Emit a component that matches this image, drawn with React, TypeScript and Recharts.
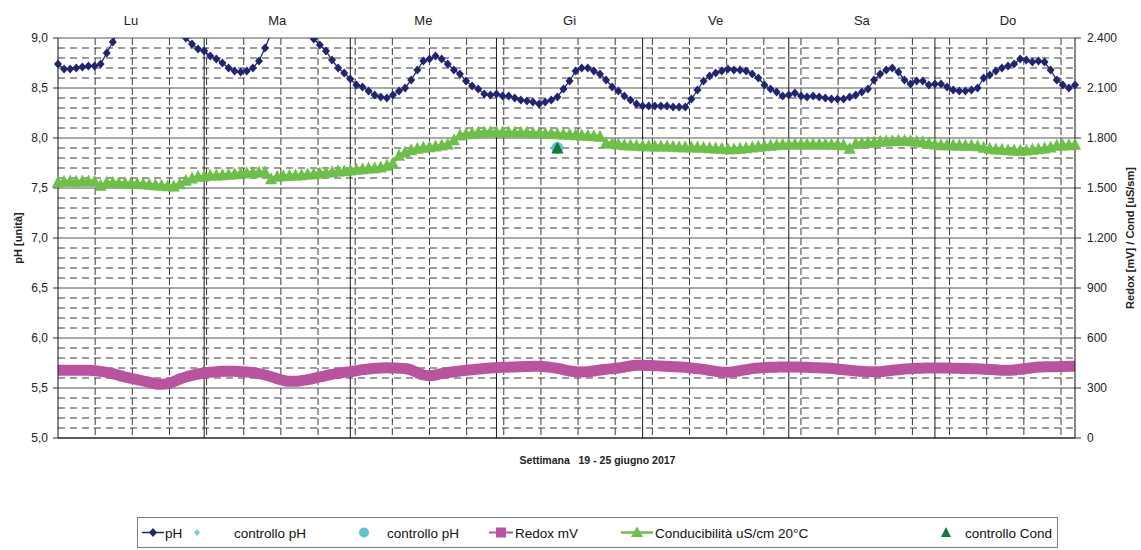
import React from "react"
import { LineChart, Line, XAxis, YAxis, CartesianGrid, Legend } from "recharts"

const FONT = "'Liberation Sans', Arial, sans-serif"

const dayLabels = ["Lu", "Ma", "Me", "Gi", "Ve", "Sa", "Do"]
const dayCenterTicks = [12, 36, 60, 84, 108, 132, 156]
const dayBoundTicks = [24, 48, 72, 96, 120, 144]
const hourTicks = [
    0, 6.1, 12.2, 18.3, 24.4, 30.5, 36.6, 42.7, 48.8, 54.9, 61, 67.1, 73.2, 79.3,
    85.4, 91.5, 97.6, 103.7, 109.8, 115.9, 122, 128.1, 134.2, 140.3, 146.4, 152.5, 158.6, 164.7,
]
const phTicks = [5, 5.5, 6, 6.5, 7, 7.5, 8, 8.5, 9]
const phMinorTicks = [
    5.1, 5.2, 5.3, 5.4, 5.6, 5.7, 5.8, 5.9, 6.1, 6.2, 6.3, 6.4, 6.6, 6.7, 6.8, 6.9,
    7.1, 7.2, 7.3, 7.4, 7.6, 7.7, 7.8, 7.9, 8.1, 8.2, 8.3, 8.4, 8.6, 8.7, 8.8, 8.9,
]
const rightTicks = [0, 300, 600, 900, 1200, 1500, 1800, 2100, 2400]

// hourly readings, 19-25 June
const phValues = [
    8.74, 8.69, 8.69, 8.70, 8.71, 8.72, 8.72, 8.74, 8.85, 8.96, 9.08, 9.18, 9.26, 9.32, 9.36, 9.38,
    9.37, 9.33, 9.26, 9.17, 9.08, 9.0, 8.94, 8.89, 8.87, 8.82, 8.79, 8.75, 8.70, 8.67, 8.66, 8.67,
    8.70, 8.77, 8.90, 9.05, 9.16, 9.24, 9.25, 9.20, 9.10, 9.04, 8.99, 8.93, 8.87, 8.78, 8.70, 8.65,
    8.59, 8.53, 8.51, 8.47, 8.43, 8.41, 8.40, 8.43, 8.47, 8.50, 8.58, 8.68, 8.77, 8.79, 8.82, 8.79,
    8.74, 8.68, 8.64, 8.57, 8.52, 8.49, 8.44, 8.43, 8.44, 8.42, 8.42, 8.40, 8.38, 8.37, 8.36, 8.34,
    8.36, 8.38, 8.41, 8.49, 8.57, 8.67, 8.70, 8.70, 8.67, 8.64, 8.58, 8.51, 8.47, 8.42, 8.38, 8.34,
    8.32, 8.32, 8.32, 8.32, 8.32, 8.31, 8.31, 8.31, 8.39, 8.48, 8.57, 8.62, 8.65, 8.67, 8.69, 8.68,
    8.68, 8.67, 8.64, 8.60, 8.53, 8.49, 8.46, 8.42, 8.43, 8.45, 8.42, 8.41, 8.42, 8.41, 8.40, 8.39,
    8.39, 8.39, 8.41, 8.43, 8.46, 8.49, 8.58, 8.64, 8.68, 8.70, 8.66, 8.58, 8.54, 8.57, 8.57, 8.53,
    8.54, 8.54, 8.51, 8.48, 8.47, 8.47, 8.48, 8.50, 8.60, 8.63, 8.67, 8.70, 8.72, 8.74, 8.79, 8.78,
    8.76, 8.77, 8.76, 8.68, 8.58, 8.53, 8.50, 8.53,
]

const redoxValues = [
    406, 406, 407, 407, 406, 406, 404, 400, 394, 386, 376, 366, 358, 350, 342, 334,
    324, 322, 326, 338, 354, 366, 376, 384, 390, 394, 398, 400, 401, 400, 398, 396,
    392, 386, 378, 368, 356, 346, 340, 340, 344, 350, 358, 366, 374, 382, 388, 394,
    398, 404, 410, 414, 418, 420, 421, 420, 419, 417, 408, 392, 378, 374, 378, 386,
    393, 398, 402, 406, 410, 414, 417, 420, 422, 424, 425, 426, 428, 429, 430, 430,
    428, 424, 418, 410, 402, 398, 396, 398, 402, 408, 413, 416, 420, 426, 432, 436,
    436, 435, 434, 432, 430, 428, 426, 424, 420, 416, 412, 406, 400, 395, 394, 398,
    404, 410, 416, 420, 422, 424, 425, 426, 426, 426, 425, 424, 422, 421, 420, 418,
    414, 410, 406, 402, 400, 398, 398, 398, 402, 406, 410, 414, 416, 418, 419, 420,
    420, 420, 420, 419, 418, 417, 416, 415, 413, 411, 409, 407, 406, 408, 412, 417,
    422, 426, 427, 428, 428, 429, 430, 430,
]

const condValues = [
    1536, 1540, 1542, 1540, 1542, 1542, 1540, 1516, 1534, 1534, 1532, 1530, 1530, 1528, 1526, 1522,
    1520, 1516, 1514, 1512, 1526, 1546, 1560, 1570, 1572, 1576, 1578, 1580, 1582, 1586, 1590, 1592,
    1594, 1596, 1598, 1556, 1570, 1574, 1576, 1578, 1580, 1584, 1586, 1590, 1594, 1598, 1602, 1604,
    1608, 1612, 1616, 1620, 1622, 1626, 1636, 1650, 1696, 1716, 1730, 1738, 1744, 1748, 1752, 1758,
    1764, 1790, 1818, 1826, 1830, 1834, 1836, 1838, 1838, 1836, 1836, 1834, 1834, 1834, 1832, 1830,
    1828, 1828, 1826, 1824, 1822, 1820, 1818, 1816, 1814, 1810, 1772, 1768, 1764, 1760, 1758, 1756,
    1754, 1754, 1752, 1752, 1752, 1750, 1748, 1748, 1746, 1746, 1744, 1742, 1740, 1738, 1736, 1736,
    1738, 1742, 1746, 1750, 1754, 1756, 1760, 1762, 1764, 1764, 1764, 1764, 1764, 1764, 1764, 1762,
    1762, 1760, 1738, 1768, 1772, 1774, 1776, 1780, 1782, 1784, 1786, 1786, 1784, 1780, 1776, 1770,
    1764, 1760, 1760, 1758, 1758, 1756, 1756, 1754, 1744, 1738, 1734, 1732, 1730, 1728, 1726, 1728,
    1732, 1736, 1740, 1746, 1756, 1758, 1760, 1762,
]

// manual check samples
const controlHours = [82]
const controlPhValues = [7.9]
const controlCondValues = [1740]

const hours = phValues.map((_, i) => i)

const data = hours.map((h, i) => {
    const c = controlHours.indexOf(h)
    return {
        h,
        ph: phValues[i],
        redox: redoxValues[i],
        cond: condValues[i],
        ctrlPh: c >= 0 ? controlPhValues[c] : null,
        ctrlCond: c >= 0 ? controlCondValues[c] : null,
    }
})

const NAVY = "#1f2473"
const MAGENTA = "#b9529f"
const GREEN = "#6cbf47"
const DARK_GREEN = "#0e7a3d"
const CYAN = "#5bc5d6"

const fmtPh = (v: number) => v.toFixed(1).replace(".", ",")
const fmtRight = (v: number) => (v >= 1000 ? `${Math.floor(v / 1000)}.${String(v % 1000).padStart(3, "0")}` : String(v))

// grid positions go through the axis scale
const scaled = (axis: any, values: number[]) => {
    const s = axis?.scale
    if (!s) return []
    const f = typeof s === "function" ? s : typeof s.map === "function" ? (v: number) => s.map(v) : null
    if (!f) return []
    return values.map((v) => f(v)).filter((v: any) => typeof v === "number" && !isNaN(v))
}

const DiamondDot = (props: any) => {
    const { cx, cy, index } = props
    if (cx == null || cy == null) return <g key={index} />
    return <path key={index} d={`M${cx},${cy - 4.5}L${cx + 4},${cy}L${cx},${cy + 4.5}L${cx - 4},${cy}Z`} fill={NAVY} />
}

const TriangleDot = (color: string) => (props: any) => {
    const { cx, cy, index, value } = props
    if (cx == null || cy == null || value == null) return <g key={index} />
    return <path key={index} d={`M${cx},${cy - 6.5}L${cx + 6},${cy + 5.5}L${cx - 6},${cy + 5.5}Z`} fill={color} />
}

const CircleDot = (props: any) => {
    const { cx, cy, index, value } = props
    if (cx == null || cy == null || value == null) return <g key={index} />
    return <circle key={index} cx={cx} cy={cy} r={6} fill={CYAN} />
}

const LegendBox = () => (
    <div style={{ width: 921, height: 31, border: "1px solid #7a7a7a", boxSizing: "border-box", background: "#fff" }}>
        <svg width={919} height={29} style={{ display: "block" }}>
            <g fontFamily={FONT} fontSize={13.5} fill="#111">
                <line x1={4} y1={14.5} x2={26} y2={14.5} stroke={NAVY} strokeWidth={1.5} />
                <path d="M15,10L19,14.5L15,19L11,14.5Z" fill={NAVY} />
                <text x={27} y={19.5}>pH</text>

                <path d="M59,11L62,14.5L59,18L56,14.5Z" fill="#6fd3e3" />
                <text x={96} y={19.5}>controllo pH</text>

                <circle cx={226} cy={14.5} r={5} fill={CYAN} />
                <text x={249} y={19.5}>controllo pH</text>

                <line x1={351} y1={14.5} x2={375} y2={14.5} stroke={MAGENTA} strokeWidth={2} />
                <rect x={358} y={9.5} width={10} height={10} fill={MAGENTA} />
                <text x={377} y={19.5}>Redox mV</text>

                <line x1={483} y1={14.5} x2={515} y2={14.5} stroke={GREEN} strokeWidth={2.5} />
                <path d="M499,8.5L505,19L493,19Z" fill={GREEN} />
                <text x={517} y={19.5}>Conducibilità uS/cm 20°C</text>

                <path d="M808,9L813,19L803,19Z" fill={DARK_GREEN} />
                <text x={827} y={19.5}>controllo Cond</text>
            </g>
        </svg>
    </div>
)

const tickStyle = { fill: "#222", fontSize: 12, fontFamily: FONT }

export default function App() {
    return (
        <div style={{ position: "absolute", left: 0, top: 0, background: "#fff" }}>
            <LineChart width={1141} height={550} data={data} margin={{ top: 0, right: 0, bottom: 82, left: 0 }}>
                <XAxis
                    xAxisId="hours"
                    dataKey="h"
                    type="number"
                    domain={[0, 167]}
                    ticks={hourTicks}
                    interval={0}
                    tick={false}
                    tickSize={5}
                    height={30}
                    axisLine={{ stroke: "#111" }}
                    tickLine={{ stroke: "#333" }}
                    label={(p: any) => {
                        const vb = p.viewBox
                        return (
                            <text
                                x={vb.x + vb.width / 2 + 31}
                                y={vb.y + 26}
                                textAnchor="middle"
                                fontFamily={FONT}
                                fontSize={10.5}
                                fontWeight="bold"
                                fill="#222"
                                style={{ whiteSpace: "pre" }}
                            >
                                {"Settimana   19 - 25 giugno 2017"}
                            </text>
                        )
                    }}
                />
                <XAxis
                    xAxisId="days"
                    orientation="top"
                    dataKey="h"
                    type="number"
                    domain={[0, 167]}
                    ticks={dayCenterTicks}
                    interval={0}
                    tickFormatter={(v: number) => dayLabels[dayCenterTicks.indexOf(v)]}
                    tick={{ fill: "#222", fontSize: 13, fontFamily: FONT }}
                    axisLine={false}
                    tickLine={false}
                    tickSize={0}
                    tickMargin={13}
                    height={38}
                />
                <YAxis
                    yAxisId="ph"
                    domain={[5, 9]}
                    ticks={phTicks}
                    interval={0}
                    allowDataOverflow
                    width={58}
                    tickFormatter={fmtPh}
                    tick={tickStyle}
                    tickSize={5}
                    tickMargin={5}
                    axisLine={{ stroke: "#111" }}
                    tickLine={{ stroke: "#333" }}
                    label={(p: any) => {
                        const vb = p.viewBox
                        const cx = vb.x + 18
                        const cy = vb.y + vb.height / 2
                        return (
                            <text x={cx} y={cy} transform={`rotate(-90, ${cx}, ${cy})`} textAnchor="middle" dominantBaseline="central" fontFamily={FONT} fontSize={11} fontWeight="bold" fill="#222">
                                pH [unità]
                            </text>
                        )
                    }}
                />
                <YAxis
                    yAxisId="r"
                    orientation="right"
                    domain={[0, 2400]}
                    ticks={rightTicks}
                    interval={0}
                    width={66}
                    tickFormatter={fmtRight}
                    tick={tickStyle}
                    tickSize={6}
                    tickMargin={6}
                    axisLine={{ stroke: "#111" }}
                    tickLine={{ stroke: "#333" }}
                    label={(p: any) => {
                        const vb = p.viewBox
                        const cx = vb.x + 55
                        const cy = vb.y + vb.height / 2
                        return (
                            <text x={cx} y={cy} transform={`rotate(-90, ${cx}, ${cy})`} textAnchor="middle" dominantBaseline="central" fontFamily={FONT} fontSize={11} fontWeight="bold" fill="#222">
                                Redox [mV] / Cond [uS/sm]
                            </text>
                        )
                    }}
                />

                {/* minor dashed grid */}
                <CartesianGrid
                    xAxisId="hours"
                    yAxisId="ph"
                    vertical={false}
                    stroke="#3a3a3a"
                    strokeDasharray="7 5"
                    horizontalCoordinatesGenerator={({ yAxis }: any) => scaled(yAxis, phMinorTicks)}
                />
                <CartesianGrid
                    xAxisId="hours"
                    yAxisId="ph"
                    horizontal={false}
                    stroke="#3a3a3a"
                    strokeDasharray="7 3"
                    verticalCoordinatesGenerator={({ xAxis }: any) => scaled(xAxis, hourTicks.slice(1))}
                />
                {/* major solid grid */}
                <CartesianGrid
                    xAxisId="hours"
                    yAxisId="ph"
                    vertical={false}
                    stroke="#555"
                    horizontalCoordinatesGenerator={({ yAxis }: any) => scaled(yAxis, phTicks)}
                />
                <CartesianGrid
                    xAxisId="hours"
                    yAxisId="ph"
                    horizontal={false}
                    stroke="#1a1a1a"
                    verticalCoordinatesGenerator={({ xAxis }: any) => scaled(xAxis, dayBoundTicks)}
                />

                <Legend verticalAlign="middle" align="center" wrapperStyle={{ left: 137, top: 517, width: 921, height: 31 }} content={<LegendBox />} />

                <Line
                    xAxisId="hours"
                    yAxisId="r"
                    dataKey="redox"
                    type="monotone"
                    stroke={MAGENTA}
                    strokeWidth={11}
                    dot={false}
                    activeDot={false}
                    isAnimationActive={false}
                />
                <Line
                    xAxisId="hours"
                    yAxisId="r"
                    dataKey="cond"
                    type="linear"
                    stroke={GREEN}
                    strokeWidth={3}
                    dot={TriangleDot(GREEN)}
                    activeDot={false}
                    isAnimationActive={false}
                />
                <Line
                    xAxisId="hours"
                    yAxisId="ph"
                    dataKey="ph"
                    type="linear"
                    stroke={NAVY}
                    strokeWidth={1.3}
                    dot={DiamondDot}
                    activeDot={false}
                    isAnimationActive={false}
                />
                <Line
                    xAxisId="hours"
                    yAxisId="ph"
                    dataKey="ctrlPh"
                    stroke="none"
                    dot={CircleDot}
                    activeDot={false}
                    isAnimationActive={false}
                />
                <Line
                    xAxisId="hours"
                    yAxisId="r"
                    dataKey="ctrlCond"
                    stroke="none"
                    dot={TriangleDot(DARK_GREEN)}
                    activeDot={false}
                    isAnimationActive={false}
                />
            </LineChart>
        </div>
    )
}
